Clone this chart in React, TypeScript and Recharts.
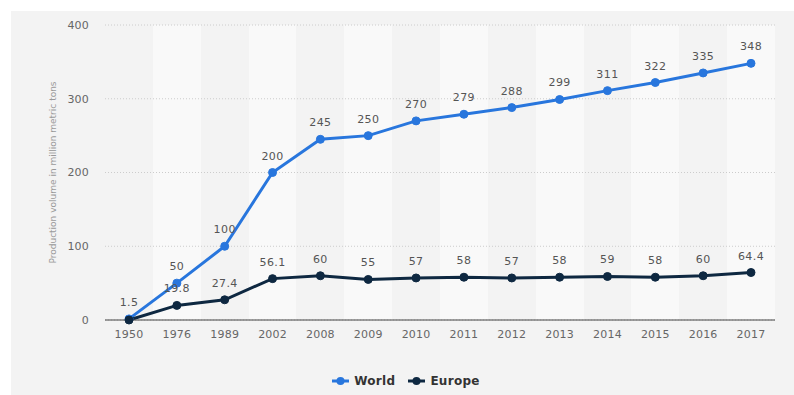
import React from 'react';
import { LineChart, Line, XAxis, YAxis, CartesianGrid, LabelList } from 'recharts';

const years = ['1950', '1976', '1989', '2002', '2008', '2009', '2010', '2011', '2012', '2013', '2014', '2015', '2016', '2017'];
const world = [1.5, 50, 100, 200, 245, 250, 270, 279, 288, 299, 311, 322, 335, 348];
const europe = [0, 19.8, 27.4, 56.1, 60, 55, 57, 58, 57, 58, 59, 58, 60, 64.4];
const yTicks = [0, 100, 200, 300, 400];

const seriesInfo = [
  { key: 'world', name: 'World', color: '#2876dd' },
  { key: 'europe', name: 'Europe', color: '#0e2841' },
];

const data = years.map((y, i) => ({ year: y, world: world[i], europe: europe[i] }));

const FONT = '"DejaVu Sans", sans-serif';

export default function App() {
  return (
    <div style={{ position: 'absolute', left: 0, top: 0, width: 794, height: 395, background: '#ffffff', fontFamily: FONT }}>
      <div style={{ position: 'absolute', left: 11, top: 11, width: 783, height: 384, background: '#f3f3f3' }} />
      <div style={{ position: 'absolute', left: 0, top: 0 }}>
        <LineChart width={794} height={395} data={data} margin={{ top: 25, right: 19, bottom: 45, left: 0 }}>
          <CartesianGrid
            horizontal={false}
            vertical={true}
            stroke="none"
            verticalFill={['#f3f3f3', '#f9f9f9']}
            verticalCoordinatesGenerator={({ width, offset }: any) => {
              const w = offset.width ?? width - offset.left - offset.right;
              return years.map((_, i) => offset.left + (i * w) / years.length);
            }}
          />
          <CartesianGrid vertical={false} stroke="#cccccc" strokeDasharray="1 2" />
          <XAxis
            dataKey="year"
            padding={{ left: 24, right: 24 }}
            axisLine={{ stroke: '#444444', strokeWidth: 1 }}
            tickLine={false}
            tickMargin={4}
            tick={{ fill: '#666666', fontSize: 11, fontFamily: FONT, letterSpacing: 0.2 }}
            interval={0}
          />
          <YAxis
            width={105}
            domain={[0, 400]}
            ticks={yTicks}
            axisLine={false}
            tickLine={false}
            tickMargin={10}
            tick={{ fill: '#666666', fontSize: 11, fontFamily: FONT, letterSpacing: 0.2 }}
            label={{
              value: 'Production volume in million metric tons',
              angle: -90,
              position: 'center',
              fill: '#999999',
              fontSize: 9,
              fontFamily: FONT,
            }}
          />
          {seriesInfo.map((s) => (
            <Line
              key={s.key}
              type="linear"
              dataKey={s.key}
              name={s.name}
              stroke={s.color}
              strokeWidth={3}
              dot={{ r: 4, fill: s.color, stroke: s.color, strokeWidth: 1 }}
              activeDot={false}
              isAnimationActive={false}
            >
              <LabelList
                dataKey={s.key}
                position="top"
                offset={13}
                fill="#555555"
                fontSize={11}
                fontFamily={FONT}
                letterSpacing={0.4}
                formatter={(v: any) => (v === 0 ? '' : v)}
              />
            </Line>
          ))}
        </LineChart>
      </div>
      <div
        style={{
          position: 'absolute',
          left: 9,
          top: 372,
          width: 794,
          height: 18,
          display: 'flex',
          justifyContent: 'center',
          alignItems: 'center',
          gap: 13,
          fontFamily: FONT,
          fontSize: 12,
          fontWeight: 'bold',
          letterSpacing: 0.3,
          color: '#333333',
        }}
      >
        {seriesInfo.map((s) => (
          <div key={s.key} style={{ display: 'flex', alignItems: 'center' }}>
            <svg width={17} height={10} style={{ marginRight: 5 }}>
              <line x1={0} y1={5} x2={17} y2={5} stroke={s.color} strokeWidth={3} />
              <circle cx={8.5} cy={5} r={4} fill={s.color} />
            </svg>
            <span>{s.name}</span>
          </div>
        ))}
      </div>
    </div>
  );
}
